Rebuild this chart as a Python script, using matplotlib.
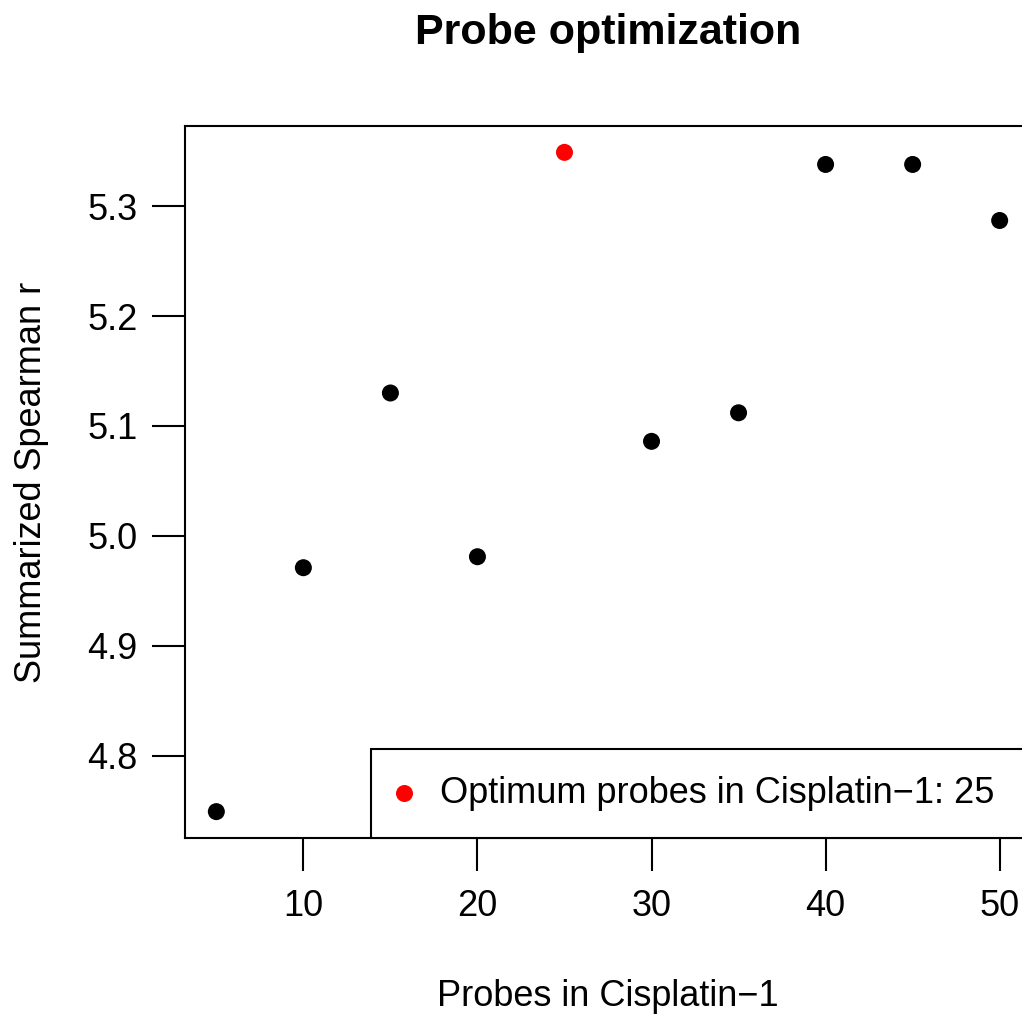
import matplotlib
matplotlib.use("Agg")
from matplotlib import pyplot as plt

# Données
probes = [5, 10, 15, 20, 25, 30, 35, 40, 45, 50]
spearman = [4.749, 4.971, 5.130, 4.981, 5.349, 5.086, 5.112, 5.338, 5.338, 5.287]
optimum = 25
xticks = [10, 20, 30, 40, 50]
yticks = [4.8, 4.9, 5.0, 5.1, 5.2, 5.3]

plt.rcParams["font.family"] = ["Liberation Sans", "DejaVu Sans"]

fig = plt.figure(figsize=(10.22, 10.17), dpi=100)
ax = fig.add_axes([185 / 1022, 1 - 838 / 1017, 846 / 1022, 712 / 1017])

couleurs = ["red" if p == optimum else "black" for p in probes]
ax.scatter(probes, spearman, c=couleurs, s=150, zorder=3, linewidths=0)

# marges à 4 % comme R
rx = (max(probes) - min(probes)) * 0.04
ry = (max(spearman) - min(spearman)) * 0.04
ax.set_xlim(min(probes) - rx, max(probes) + rx)
ax.set_ylim(min(spearman) - ry, max(spearman) + ry)

ax.set_xticks(xticks)
ax.set_yticks(yticks)
ax.set_yticklabels([f"{v:.1f}" for v in yticks])
ax.tick_params(direction="out", length=24, width=1.5, labelsize=26, pad=10)
ax.tick_params(axis="x", pad=13)
for s in ax.spines.values():
    s.set_linewidth(1.5)

ax.set_xlabel("Probes in Cisplatin\u22121", fontsize=26, labelpad=39)
ax.set_ylabel("Summarized Spearman r", fontsize=26, labelpad=28)
fig.suptitle("Probe optimization", fontsize=31, fontweight="bold", y=0.987, x=(185 + 1031) / 2 / 1022)

# légende : boîte de x=371 jusqu'au bord droit des axes
h = ax.scatter([], [], c="red", s=150, linewidths=0)
x0 = (371 - 185) / 846
leg = ax.legend([h], [f"Optimum probes in Cisplatin\u22121: {optimum}"], loc="lower left",
                bbox_to_anchor=(x0, 0, 1 - x0, 0.1), mode="expand", borderaxespad=0,
                fontsize=26, fancybox=False, edgecolor="black", framealpha=1,
                borderpad=0.75, handletextpad=0.8, handlelength=0.35)
leg.get_frame().set_linewidth(1.5)

fig.savefig("out.png", dpi=100)
